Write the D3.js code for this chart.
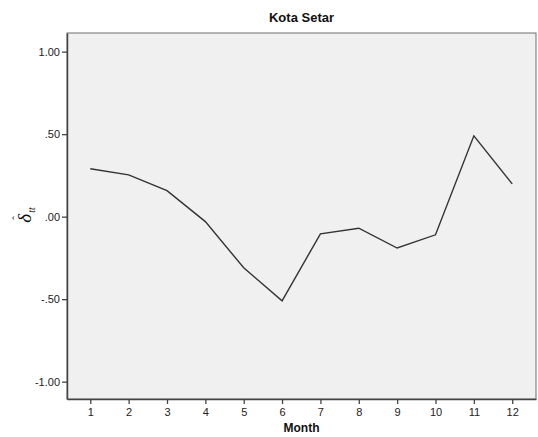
<!DOCTYPE html>
<html>
<head>
<meta charset="utf-8">
<script src="https://cdn.jsdelivr.net/npm/d3@7"></script>
<style>
  body { margin: 0; background: #fff; }
  svg { display: block; font-family: Arial, "Liberation Sans", sans-serif; }
</style>
</head>
<body>
<div id="chart"></div>
<script>
// Data
const months = [1, 2, 3, 4, 5, 6, 7, 8, 9, 10, 11, 12];
const delta = [0.29, 0.253, 0.158, -0.03, -0.31, -0.51, -0.104, -0.07, -0.19, -0.11, 0.49, 0.199];
const yTicks = [1, 0.5, 0, -0.5, -1];
const yTickLabels = ["1.00", ".50", ".00", "-.50", "-1.00"];

// Dimensions
const width = 538;
const height = 437;
const marginTop = 33;
const marginRight = 2;
const marginBottom = 38;
const marginLeft = 67;

const x = d3.scaleLinear()
    .domain([0.393, 12.62])
    .range([marginLeft, width - marginRight]);

const y = d3.scaleLinear()
    .domain([-1.105, 1.113])
    .range([height - marginBottom, marginTop]);

const svg = d3.select("#chart")
    .append("svg")
    .attr("width", width)
    .attr("height", height)
    .attr("viewBox", [0, 0, width, height]);

// Plot background
svg.append("rect")
    .attr("x", marginLeft)
    .attr("y", marginTop)
    .attr("width", width - marginRight - marginLeft)
    .attr("height", height - marginBottom - marginTop)
    .attr("fill", "#f0f0f0")
    .attr("stroke", "#6e6e6e")
    .attr("stroke-width", 1);

// Axes
const xAxis = svg.append("g")
    .attr("transform", `translate(0,${height - marginBottom})`)
    .call(d3.axisBottom(x).tickValues(months).tickSize(5).tickPadding(4).tickSizeOuter(0));

const yAxis = svg.append("g")
    .attr("transform", `translate(${marginLeft},0)`)
    .call(d3.axisLeft(y).tickValues(yTicks).tickSize(5).tickPadding(2).tickSizeOuter(0)
        .tickFormat((d, i) => yTickLabels[i]));

[xAxis, yAxis].forEach(g => {
    g.select(".domain").attr("stroke", "#444").attr("stroke-width", 1.5);
    g.selectAll(".tick line").attr("stroke", "#444").attr("stroke-width", 1.3);
    g.selectAll(".tick text")
        .attr("fill", "#222")
        .style("font-size", "11px")
        .style("font-family", "Arial, 'Liberation Sans', sans-serif");
});

// Line
const line = d3.line()
    .x((d, i) => x(months[i]))
    .y(d => y(d));

svg.append("path")
    .datum(delta)
    .attr("fill", "none")
    .attr("stroke", "#333")
    .attr("stroke-width", 1.4)
    .attr("stroke-linejoin", "miter")
    .attr("d", line);

// Title
svg.append("text")
    .attr("x", (marginLeft + width - marginRight) / 2)
    .attr("y", 22)
    .attr("text-anchor", "middle")
    .style("font-size", "13px")
    .style("font-weight", "bold")
    .attr("fill", "#111")
    .text("Kota Setar");

// X axis title
svg.append("text")
    .attr("x", (marginLeft + width - marginRight) / 2)
    .attr("y", 432)
    .attr("text-anchor", "middle")
    .style("font-size", "12px")
    .style("font-weight", "bold")
    .attr("fill", "#111")
    .text("Month");

// Y axis title: delta hat with subscript tt (rotated)
const yLabel = svg.append("g")
    .attr("transform", `translate(31,${y(0)}) rotate(-90)`)
    .attr("fill", "#111")
    .style("font-family", "'Times New Roman', 'Liberation Serif', serif")
    .style("font-style", "italic");

yLabel.append("text")
    .attr("x", -6)
    .attr("y", 0)
    .style("font-size", "19px")
    .text("\u03B4");

yLabel.append("text")
    .attr("x", -3)
    .attr("y", -11)
    .style("font-size", "11px")
    .style("font-style", "normal")
    .text("\u02C6");

yLabel.append("text")
    .attr("x", 4)
    .attr("y", 4)
    .style("font-size", "10px")
    .text("tt");
</script>
</body>
</html>
